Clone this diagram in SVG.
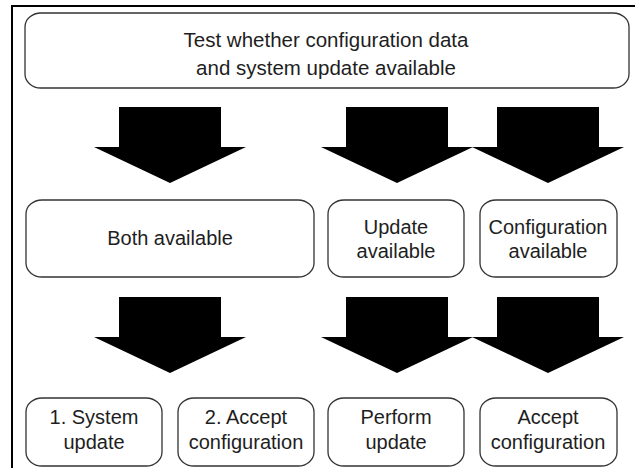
<svg xmlns="http://www.w3.org/2000/svg" width="635" height="468" viewBox="0 0 635 468">
<defs>
<style>
.box{fill:#fff;stroke:#333;stroke-width:1.3}
.t{font-family:"Liberation Sans",Arial,sans-serif;font-size:20px;fill:#1e1e1e;text-anchor:middle}
.big{font-size:20.5px}
.arr{fill:#000}
</style>
<path id="a" d="M-51,0 H51 V40 H76 L0,76 L-76,40 H-51 Z"/>
</defs>
<rect width="635" height="468" fill="#fff"/>
<path d="M12,470 V6 H640" fill="none" stroke="#000" stroke-width="2"/>
<g id="test">
<rect class="box" x="25" y="13" width="604" height="75" rx="16" ry="14"/>
<text class="t big" x="326" y="47">Test whether configuration data</text>
<text class="t big" x="326" y="75">and system update available</text>
</g>
<g id="connectors">
<use href="#a" class="arr" x="170" y="107"/>
<use href="#a" class="arr" x="397" y="107"/>
<use href="#a" class="arr" x="548" y="107"/>
<use href="#a" class="arr" x="170" y="297"/>
<use href="#a" class="arr" x="397" y="297"/>
<use href="#a" class="arr" x="548" y="297"/>
</g>
<g id="both">
<rect class="box" x="26" y="200" width="288" height="77" rx="16" ry="14"/>
<text class="t" x="170" y="245">Both available</text>
</g>
<g id="update">
<rect class="box" x="328" y="200" width="136" height="77" rx="16" ry="14"/>
<text class="t" x="396" y="234">Update</text>
<text class="t" x="396" y="258">available</text>
</g>
<g id="config">
<rect class="box" x="480" y="200" width="137" height="77" rx="16" ry="14"/>
<text class="t" x="548" y="234">Configuration</text>
<text class="t" x="548" y="258">available</text>
</g>
<g id="sysupdate">
<rect class="box" x="26" y="398" width="136" height="68" rx="16" ry="14"/>
<text class="t" x="94" y="424">1. System</text>
<text class="t" x="94" y="449">update</text>
</g>
<g id="accept1">
<rect class="box" x="178" y="398" width="136" height="68" rx="16" ry="14"/>
<text class="t" x="246" y="424">2. Accept</text>
<text class="t" x="246" y="449">configuration</text>
</g>
<g id="perform">
<rect class="box" x="328" y="398" width="136" height="68" rx="16" ry="14"/>
<text class="t" x="396" y="424">Perform</text>
<text class="t" x="396" y="449">update</text>
</g>
<g id="accept2">
<rect class="box" x="480" y="398" width="137" height="68" rx="16" ry="14"/>
<text class="t" x="548" y="424">Accept</text>
<text class="t" x="548" y="449">configuration</text>
</g>
</svg>
